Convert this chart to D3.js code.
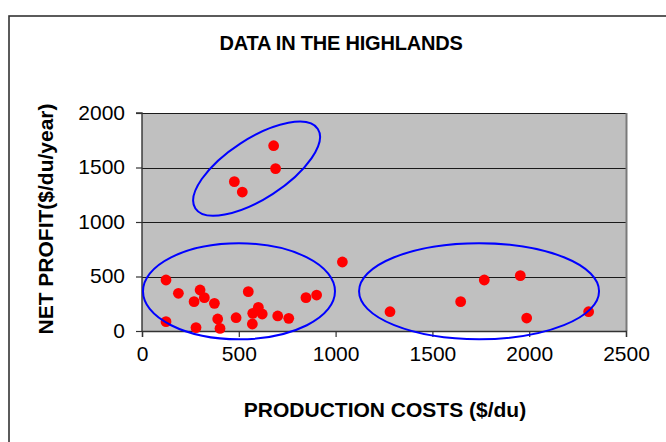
<!DOCTYPE html>
<html>
<head>
<meta charset="utf-8">
<script src="https://cdn.jsdelivr.net/npm/d3@7"></script>
<style>
  html, body { margin: 0; padding: 0; background: #fff; }
  svg { display: block; }
  text { font-family: "Liberation Sans", Arial, sans-serif; fill: #000; }
</style>
</head>
<body>
<svg id="chart" width="666" height="442"></svg>
<script>
// Production cost ($/du) vs net profit ($/du/year) for highland farms
const productionCosts = [680, 690, 477, 518, 1035, 124, 188, 300, 322, 269, 374, 549, 124, 279, 391, 403,
                         486, 601, 572, 621, 570, 701, 758, 847, 902, 1281, 1646, 1768, 1954, 1987, 2307];
const netProfits      = [1700, 1490, 1370, 1275, 633, 468, 346, 376, 306, 269, 254, 361, 86, 31, 110, 24,
                         122, 217, 162, 156, 64, 138, 116, 306, 330, 177, 269, 468, 508, 119, 177];

const xTicks = [0, 500, 1000, 1500, 2000, 2500];
const yTicks = [0, 500, 1000, 1500, 2000];

// Group outlines: centre in data units
const groupCentreX = [592, 501, 1741];
const groupCentreY = [1489, 364, 365];

const titleText = "DATA IN THE HIGHLANDS";
const xTitle = "PRODUCTION COSTS ($/du)";
const yTitle = "NET PROFIT($/du/year)";

const svg = d3.select("#chart");
const plot = { left: 142, right: 626, top: 113, bottom: 331 };

const x = d3.scaleLinear().domain([0, 2500]).range([plot.left, plot.right]);
const y = d3.scaleLinear().domain([0, 2000]).range([plot.bottom, plot.top]);

// outer chart frame (runs off the right and bottom edges)
svg.append("rect")
  .attr("x", 9).attr("y", 16)
  .attr("width", 700).attr("height", 460)
  .attr("fill", "#fff").attr("stroke", "#333").attr("stroke-width", 1.6);

// plot area
svg.append("rect")
  .attr("x", plot.left).attr("y", plot.top)
  .attr("width", plot.right - plot.left).attr("height", plot.bottom - plot.top)
  .attr("fill", "#c0c0c0");

// horizontal gridlines (the top one doubles as the upper edge)
svg.append("g").selectAll("line").data(yTicks.filter(d => d > 0)).join("line")
  .attr("x1", plot.left).attr("x2", plot.right)
  .attr("y1", d => Math.round(y(d)) + 0.5).attr("y2", d => Math.round(y(d)) + 0.5)
  .attr("stroke", "#1a1a1a").attr("stroke-width", 1);

// right border of plot area
svg.append("line")
  .attr("x1", plot.right + 0.5).attr("x2", plot.right + 0.5)
  .attr("y1", plot.top).attr("y2", plot.bottom)
  .attr("stroke", "#7a7a7a").attr("stroke-width", 2);

// axes
const xAxis = d3.axisBottom(x).tickValues(xTicks).tickSize(6).tickPadding(9).tickFormat(d3.format("d"));
const yAxis = d3.axisLeft(y).tickValues(yTicks).tickSize(6).tickPadding(11).tickFormat(d3.format("d"));

const gx = svg.append("g").attr("transform", `translate(0,${plot.bottom})`).call(xAxis);
const gy = svg.append("g").attr("transform", `translate(${plot.left},0)`).call(yAxis);

[gx, gy].forEach(g => {
  g.select(".domain").attr("stroke", "#333").attr("stroke-width", 1.4);
  g.selectAll(".tick line").attr("stroke", "#333").attr("stroke-width", 1.2);
  g.selectAll(".tick text")
    .attr("font-family", "Liberation Sans, Arial, sans-serif")
    .attr("font-size", 21).attr("fill", "#000");
});
gy.select(".domain").attr("d", `M-6,${plot.top}H0V${plot.bottom}`);
gx.selectAll(".tick text").attr("dy", "0.71em");
gy.selectAll(".tick text").attr("dy", "0.3em");

// points
svg.append("g").selectAll("circle").data(productionCosts).join("circle")
  .attr("cx", d => x(d))
  .attr("cy", (d, i) => y(netProfits[i]))
  .attr("r", 5.4)
  .attr("fill", "#ff0000");

// group outlines (semi-axes and tilt in screen pixels)
const groupRadiusA = [73, 96, 120];
const groupRadiusB = [30, 48, 48];
const groupTilt = [-33, 0, 0];
svg.append("g").selectAll("ellipse").data(groupCentreX).join("ellipse")
  .attr("transform", (d, i) => `translate(${x(d)},${y(groupCentreY[i])}) rotate(${groupTilt[i]})`)
  .attr("rx", (d, i) => groupRadiusA[i])
  .attr("ry", (d, i) => groupRadiusB[i])
  .attr("fill", "none")
  .attr("stroke", "#0000ff")
  .attr("stroke-width", 2);

// titles
svg.append("text")
  .attr("x", 341).attr("y", 50)
  .attr("text-anchor", "middle")
  .attr("font-size", 20).attr("font-weight", "bold")
  .attr("letter-spacing", -0.2)
  .text(titleText);

svg.append("text")
  .attr("x", 385).attr("y", 417)
  .attr("text-anchor", "middle")
  .attr("font-size", 21).attr("font-weight", "bold")
  .text(xTitle);

svg.append("text")
  .attr("transform", "translate(53,219) rotate(-90)")
  .attr("text-anchor", "middle")
  .attr("font-size", 21).attr("font-weight", "bold")
  .text(yTitle);
</script>
</body>
</html>
